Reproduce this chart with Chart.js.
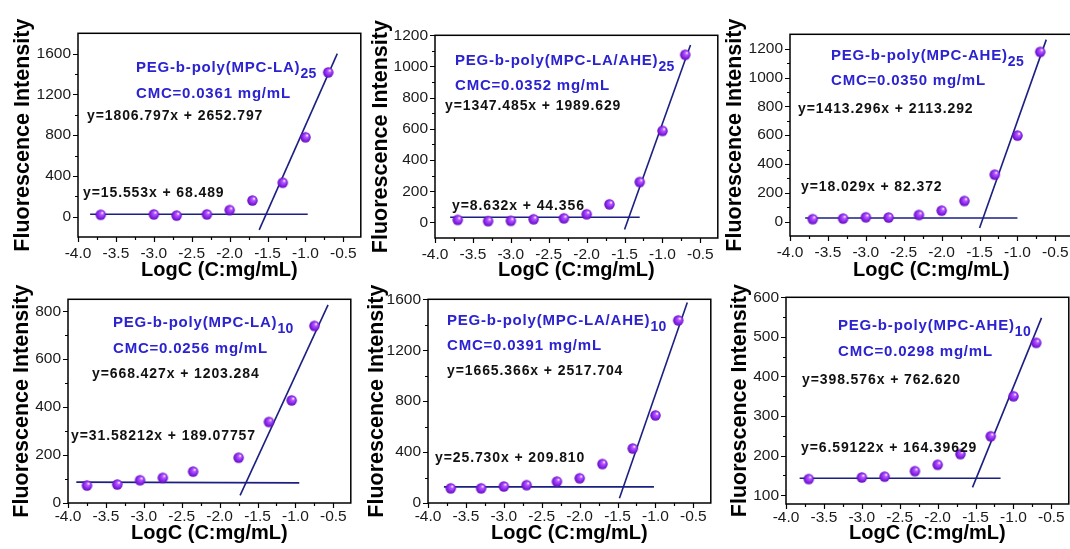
<!DOCTYPE html>
<html><head><meta charset="utf-8">
<script src="https://cdn.jsdelivr.net/npm/chart.js@4.4.0/dist/chart.umd.min.js"></script>
<style>
html,body{margin:0;padding:0;background:#fff;overflow:hidden;width:1070px;height:549px;position:relative;}
canvas{position:absolute;}
</style></head><body>
<script>
// ---------- DATA ----------
const xTickMajor = [-4.0,-3.5,-3.0,-2.5,-2.0,-1.5,-1.0,-0.5];
const xTickMinor = [-3.75,-3.25,-2.75,-2.25,-1.75,-1.25,-0.75];

const p1X = [-3.7,-3.0,-2.7,-2.3,-2.0,-1.7,-1.3,-1.0,-0.7];
const p1Y = [18,22,10,22,64,158,333,779,1416];
const p1Flat = [[-3.84,23],[-0.97,23]];
const p1Steep = [[-1.61,-130],[-0.58,1600]];
const p1YMajor = [0,400,800,1200,1600];
const p1YMinor = [200,600,1000,1400];

const p2X = [-3.7,-3.3,-3.0,-2.7,-2.3,-2.0,-1.7,-1.3,-1.0,-0.7];
const p2Y = [16,8,10,20,26,52,116,259,587,1075];
const p2Flat = [[-3.80,33],[-1.30,33]];
const p2Steep = [[-1.50,-46],[-0.63,1138]];
const p2YMajor = [0,200,400,600,800,1000,1200];
const p2YMinor = [100,300,500,700,900,1100];

const p3X = [-3.7,-3.3,-3.0,-2.7,-2.3,-2.0,-1.7,-1.3,-1.0,-0.7];
const p3Y = [17,21,30,28,46,76,143,326,597,1178];
const p3Flat = [[-3.80,25],[-1.00,25]];
const p3Steep = [[-1.50,-45],[-0.62,1263]];
const p3YMajor = [0,200,400,600,800,1000,1200];
const p3YMinor = [100,300,500,700,900,1100];

const p4X = [-3.75,-3.35,-3.05,-2.75,-2.35,-1.75,-1.35,-1.05,-0.75];
const p4Y = [73,77,95,105,131,189,338,428,739];
const p4Flat = [[-3.89,87],[-0.95,84]];
const p4Steep = [[-1.73,32],[-0.57,827]];
const p4YMajor = [0,200,400,600,800];
const p4YMinor = [100,300,500,700];

const p5X = [-3.7,-3.3,-3.0,-2.7,-2.3,-2.0,-1.7,-1.3,-1.0,-0.7];
const p5Y = [115,115,130,140,168,194,306,428,688,1434];
const p5Flat = [[-3.79,127],[-1.02,127]];
const p5Steep = [[-1.475,38],[-0.58,1575]];
const p5YMajor = [0,400,800,1200,1600];
const p5YMinor = [200,600,1000,1400];

const p6X = [-3.7,-3.0,-2.7,-2.3,-2.0,-1.7,-1.3,-1.0,-0.7];
const p6Y = [141,145,147,161,177,204,249,350,485];
const p6Flat = [[-3.82,143],[-1.17,143]];
const p6Steep = [[-1.54,120],[-0.63,548]];
const p6YMajor = [100,200,300,400,500,600];
const p6YMinor = [150,250,350,450,550];

const names = ['PEG-b-poly(MPC-LA)','PEG-b-poly(MPC-LA/AHE)','PEG-b-poly(MPC-AHE)','PEG-b-poly(MPC-LA)','PEG-b-poly(MPC-LA/AHE)','PEG-b-poly(MPC-AHE)'];
const subs = ['25','25','25','10','10','10'];
const cmcs = ['CMC=0.0361 mg/mL','CMC=0.0352 mg/mL','CMC=0.0350 mg/mL','CMC=0.0256 mg/mL','CMC=0.0391 mg/mL','CMC=0.0298 mg/mL'];
const eqHi = ['y=1806.797x + 2652.797','y=1347.485x + 1989.629','y=1413.296x + 2113.292','y=668.427x + 1203.284','y=1665.366x + 2517.704','y=398.576x + 762.620'];
const eqLo = ['y=15.553x + 68.489','y=8.632x + 44.356','y=18.029x + 82.372','y=31.58212x + 189.07757','y=25.730x + 209.810','y=6.59122x + 164.39629'];

const xTitle = 'LogC (C:mg/mL)';
const yTitle = 'Fluorescence Intensity';

// ---------- LAYOUT ----------
const FONT = "'Liberation Sans', Arial, Helvetica, sans-serif";
const X_MIN = -4.0, X_MAX = -0.27;
const YT_SIZE = 21.5, XT_SIZE = 20;
const layouts = [
  {box:[78,27,361,237],  yr:[-200,1800], ytc:22.5, xtc:270, xpad:7, t:{title:[58,35],cmc:[58,61],hi:[9,83],lo:[5,160]}},
  {box:[435,29,718,238], yr:[-100,1200], ytc:381,  xtc:270, xpad:7, t:{title:[20,26],cmc:[20,51],hi:[10,71],lo:[17,171]}},
  {box:[790,28,1073,236],yr:[-100,1300], ytc:735,  xtc:270, xpad:7, t:{title:[41,22],cmc:[41,47],hi:[8,75],lo:[11,153]}},
  {box:[68,293,351,503], yr:[0,850],     ytc:22,   xtc:533, xpad:4, t:{title:[45,24],cmc:[45,50],hi:[24,75],lo:[3,137]}},
  {box:[428,293,711,503],yr:[0,1600],    ytc:377,  xtc:533, xpad:4, t:{title:[19,22],cmc:[19,47],hi:[19,72],lo:[7,159]}},
  {box:[786,291,1069,504],yr:[78,600],   ytc:740,  xtc:533, xpad:4, t:{title:[52,29],cmc:[52,55],hi:[16,83],lo:[15,151]}}
];
const series = [
  [p1X,p1Y,p1Flat,p1Steep,p1YMajor,p1YMinor],
  [p2X,p2Y,p2Flat,p2Steep,p2YMajor,p2YMinor],
  [p3X,p3Y,p3Flat,p3Steep,p3YMajor,p3YMinor],
  [p4X,p4Y,p4Flat,p4Steep,p4YMajor,p4YMinor],
  [p5X,p5Y,p5Flat,p5Steep,p5YMajor,p5YMinor],
  [p6X,p6Y,p6Flat,p6Steep,p6YMajor,p6YMinor]
];

function sphere(r){
  const c=document.createElement('canvas'); const s=Math.ceil(2*r+2);
  c.width=s; c.height=s; const g=c.getContext('2d'); const cx=s/2, cy=s/2;
  const gr=g.createRadialGradient(cx+r*0.35, cy-r*0.4, r*0.08, cx, cy, r);
  gr.addColorStop(0,'#f7ecff'); gr.addColorStop(0.25,'#b55cff');
  gr.addColorStop(0.7,'#8a22ea'); gr.addColorStop(1,'#5e10b8');
  g.fillStyle=gr; g.beginPath(); g.arc(cx,cy,r,0,Math.PI*2); g.fill();
  return c;
}
const ball = sphere(5.2);
const LINE = '#1b1f82';
const BLUE = '#2b22d0';

function makeDeco(i){
  const L = layouts[i];
  return {
    id:'deco'+i,
    afterDraw(chart){
      const ctx=chart.ctx, a=chart.chartArea, xs=chart.scales.x, ys=chart.scales.y;
      ctx.save();
      ctx.strokeStyle='#000'; ctx.lineWidth=1.2;
      ctx.beginPath();
      xs.ticks.forEach(t=>{
        const px=Math.round(xs.getPixelForValue(t.value))+0.5;
        const len = t.label ? 5 : 3;
        ctx.moveTo(px,a.bottom); ctx.lineTo(px,a.bottom+len);
      });
      ys.ticks.forEach(t=>{
        const py=Math.round(ys.getPixelForValue(t.value))+0.5;
        const len = t.label ? 5 : 3;
        ctx.moveTo(a.left,py); ctx.lineTo(a.left-len,py);
      });
      ctx.stroke();
      ctx.lineWidth=1.5;
      ctx.strokeRect(a.left, a.top, a.right-a.left, a.bottom-a.top);
      // texts
      ctx.textBaseline='middle'; ctx.textAlign='left';
      ctx.fillStyle=BLUE;
      ctx.font='bold 15px '+FONT; ctx.letterSpacing='0.8px';
      const tx=a.left+L.t.title[0], ty=a.top+L.t.title[1];
      ctx.fillText(names[i], tx, ty);
      const w=ctx.measureText(names[i]).width;
      ctx.font='bold 14px '+FONT; ctx.letterSpacing='0.3px';
      ctx.fillText(subs[i], tx+w, ty+6);
      ctx.font='bold 15px '+FONT; ctx.letterSpacing='0.8px';
      ctx.fillText(cmcs[i], a.left+L.t.cmc[0], a.top+L.t.cmc[1]);
      ctx.fillStyle='#111';
      ctx.font='bold 14px '+FONT; ctx.letterSpacing='0.9px';
      ctx.fillText(eqHi[i], a.left+L.t.hi[0], a.top+L.t.hi[1]);
      ctx.fillText(eqLo[i], a.left+L.t.lo[0], a.top+L.t.lo[1]);
      ctx.restore();
    }
  };
}

series.forEach((s,i)=>{
  const L=layouts[i];
  const [Lf,T,R,B]=L.box;
  const cx = Math.round(L.ytc - YT_SIZE*0.6);
  const cb = Math.round(L.xtc + XT_SIZE*0.6);
  const ctop = T-10;
  const cv=document.createElement('canvas');
  cv.width = R+6-cx; cv.height = cb-ctop;
  cv.style.left=cx+'px'; cv.style.top=ctop+'px';
  cv.style.width=cv.width+'px'; cv.style.height=cv.height+'px';
  document.body.appendChild(cv);
  const [xv,yv,flat,steep,yMaj,yMin]=s;
  const yMajSet=new Set(yMaj);
  const xMajSet=new Set(xTickMajor);
  new Chart(cv,{
    type:'scatter',
    data:{datasets:[
      {data:xv.map((x,k)=>({x:x,y:yv[k]})), pointStyle:ball, pointRadius:5.2, showLine:false},
      {data:flat.map(p=>({x:p[0],y:p[1]})), showLine:true, borderColor:LINE, borderWidth:1.6, pointRadius:0},
      {data:steep.map(p=>({x:p[0],y:p[1]})), showLine:true, borderColor:LINE, borderWidth:1.6, pointRadius:0}
    ]},
    options:{
      responsive:false, animation:false, devicePixelRatio:1,
      layout:{padding:{top:10,right:6,left:0,bottom:0}},
      plugins:{legend:{display:false}, tooltip:{enabled:false}},
      scales:{
        x:{type:'linear', min:X_MIN, max:X_MAX,
          afterBuildTicks:sc=>{ sc.ticks = xTickMajor.concat(xTickMinor).sort((a,b)=>a-b).map(v=>({value:v})); },
          afterFit:sc=>{ sc.height = cb - B; },
          ticks:{autoSkip:false, maxRotation:0, minRotation:0, padding:L.xpad, color:'#1a1a1a',
            font:{family:FONT,size:15.5},
            callback:v=> xMajSet.has(v) ? v.toFixed(1) : ''},
          grid:{display:false, drawTicks:false}, border:{display:false},
          title:{display:true, text:xTitle, color:'#000', padding:0, font:{family:FONT,size:XT_SIZE,weight:'bold'}}
        },
        y:{type:'linear', min:L.yr[0], max:L.yr[1],
          afterBuildTicks:sc=>{ sc.ticks = yMaj.concat(yMin).sort((a,b)=>a-b).map(v=>({value:v})); },
          afterFit:sc=>{ sc.width = Lf - cx; },
          ticks:{autoSkip:false, padding:7, color:'#1a1a1a', font:{family:FONT,size:15.5},
            callback:v=> yMajSet.has(v) ? String(v) : ''},
          grid:{display:false, drawTicks:false}, border:{display:false},
          title:{display:true, text:yTitle, color:'#000', padding:{top:0,bottom:0}, font:{family:FONT,size:YT_SIZE,weight:'bold'}}
        }
      }
    },
    plugins:[makeDeco(i)]
  });
});
</script>
</body></html>
